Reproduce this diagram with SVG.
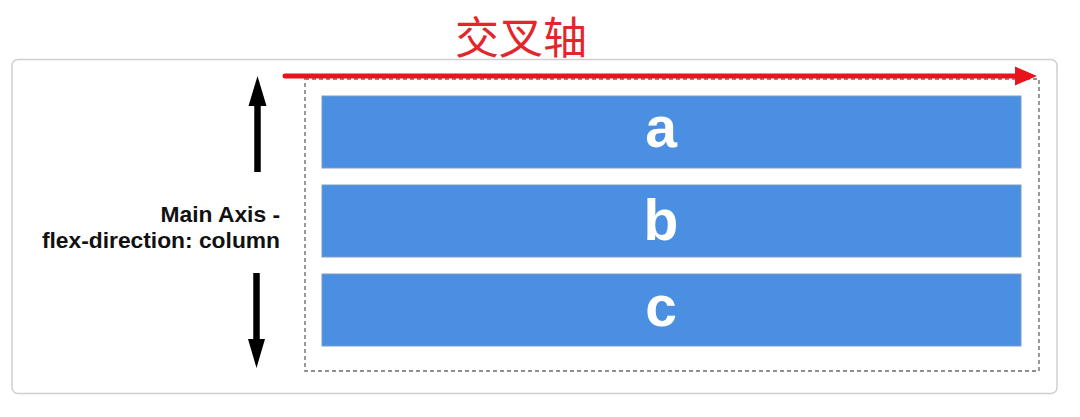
<svg xmlns="http://www.w3.org/2000/svg" width="1080" height="417" viewBox="0 0 1080 417">
<style>
.item{fill:#4a8fe2;stroke:#7f9cc4;stroke-width:1}
.lbl{font-family:"Liberation Sans",Arial,sans-serif;font-weight:bold;font-size:57px;fill:#fff;text-anchor:middle}
.axis{font-family:"Liberation Sans",Arial,sans-serif;font-weight:bold;font-size:22.8px;fill:#111;text-anchor:end}
</style>
<rect width="1080" height="417" fill="#fff"/>
<g id="container">
<rect x="12" y="59.5" width="1045" height="334" rx="6" fill="#fff" stroke="#cfcfcf" stroke-width="1.5"/>
<rect x="305" y="79" width="734" height="292" fill="none" stroke="#8f8f8f" stroke-width="1.8" stroke-dasharray="4 3"/>
</g>
<g id="title">
<text x="455" y="54" font-family="'Noto Sans CJK SC',sans-serif" font-size="44" fill="#e3262b">交叉轴</text>
</g>
<g id="item-a">
<rect class="item" x="322" y="96" width="699" height="72"/>
<text class="lbl" x="661" y="147">a</text>
</g>
<g id="item-b">
<rect class="item" x="322" y="185" width="699" height="72"/>
<text class="lbl" x="661" y="240">b</text>
</g>
<g id="item-c">
<rect class="item" x="322" y="274" width="699" height="72"/>
<text class="lbl" x="661" y="326">c</text>
</g>
<g id="main-axis-label">
<text class="axis" x="280" y="222">Main Axis -</text>
<text class="axis" x="280" y="248">flex-direction: column</text>
</g>
<g id="connectors">
<line x1="257.5" y1="172" x2="257.5" y2="100" stroke="#000" stroke-width="6.5"/>
<polygon points="257.5,76 266.5,106 248.5,106" fill="#000"/>
<line x1="256.5" y1="273" x2="256.5" y2="344" stroke="#000" stroke-width="6.5"/>
<polygon points="256.5,368 265,339 248,339" fill="#000"/>
<line x1="285" y1="76" x2="1018" y2="76" stroke="#e8141b" stroke-width="5" stroke-linecap="round"/>
<polygon points="1037,76 1015,66.5 1015,85.5" fill="#e8141b"/>
</g>
</svg>
